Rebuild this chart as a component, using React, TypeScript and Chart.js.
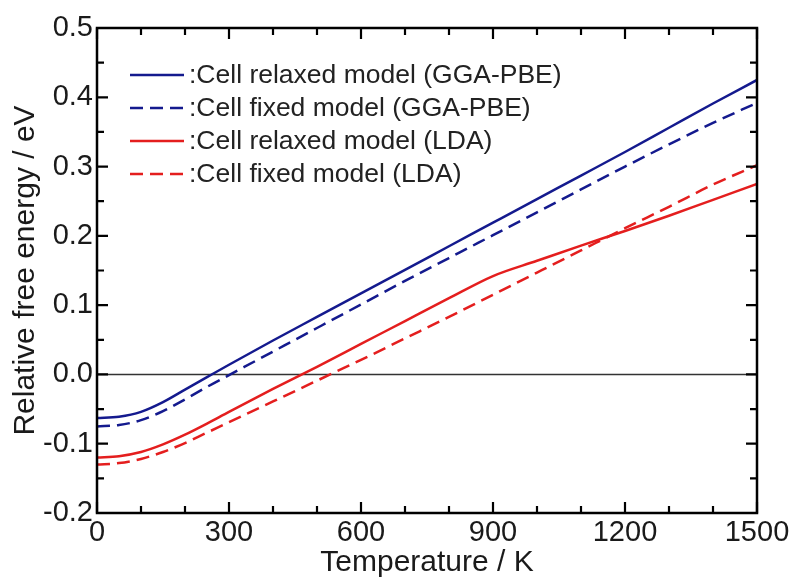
import React, { useEffect, useRef } from "react";
import { Chart, registerables } from "chart.js";

Chart.register(...registerables);

// ---- Data ----
const temperatures = [0, 50, 100, 150, 200, 250, 300, 400, 500, 600, 700, 800, 900, 1000, 1100, 1200, 1300, 1400, 1500];

const relaxedGGA = [-0.063, -0.061, -0.054, -0.04, -0.022, -0.004, 0.014, 0.049, 0.083, 0.117, 0.151, 0.185, 0.219, 0.253, 0.287, 0.321, 0.356, 0.391, 0.425];
const fixedGGA = [-0.075, -0.073, -0.066, -0.053, -0.036, -0.018, -0.001, 0.033, 0.067, 0.101, 0.135, 0.168, 0.201, 0.234, 0.267, 0.3, 0.332, 0.363, 0.392];
const relaxedLDA = [-0.12, -0.118, -0.112, -0.101, -0.087, -0.071, -0.054, -0.021, 0.011, 0.044, 0.077, 0.11, 0.142, 0.164, 0.186, 0.207, 0.229, 0.252, 0.275];
const fixedLDA = [-0.13, -0.128, -0.122, -0.112, -0.099, -0.084, -0.069, -0.039, -0.009, 0.021, 0.052, 0.083, 0.115, 0.147, 0.179, 0.211, 0.242, 0.274, 0.302];

const seriesLabels = [
  ":Cell relaxed model (GGA-PBE)",
  ":Cell fixed model (GGA-PBE)",
  ":Cell relaxed model (LDA)",
  ":Cell fixed model (LDA)",
];

const xTitle = "Temperature / K";
const yTitle = "Relative free energy / eV";

const X_MIN = 0;
const X_MAX = 1500;
const X_MAJOR = 300;
const X_MINOR = 100;
const Y_MIN = -0.2;
const Y_MAX = 0.5;
const Y_MAJOR = 0.1;
const Y_MINOR = 0.05;

const FONT = "'Liberation Sans', Arial, Helvetica, sans-serif";
const BLUE = "#141a8e";
const RED = "#e41e1e";
const DASH = [13, 7];

const toPoints = (vals: number[]) => temperatures.map((t, i) => ({ x: t, y: vals[i] }));

const framePlugin = {
  id: "frameTicksLegend",
  beforeDatasetsDraw(chart: any) {
    const { ctx, chartArea: a, scales } = chart;
    const y0 = scales.y.getPixelForValue(0);
    ctx.save();
    ctx.strokeStyle = "#333";
    ctx.lineWidth = 1.5;
    ctx.beginPath();
    ctx.moveTo(a.left, y0);
    ctx.lineTo(a.right, y0);
    ctx.stroke();
    ctx.restore();
  },
  afterDatasetsDraw(chart: any) {
    const { ctx, chartArea: a, scales } = chart;
    const xs = scales.x;
    const ys = scales.y;
    ctx.save();
    ctx.strokeStyle = "#000";
    ctx.lineWidth = 2.5;
    ctx.setLineDash([]);
    ctx.beginPath();
    ctx.rect(a.left, a.top, a.right - a.left, a.bottom - a.top);
    ctx.stroke();

    ctx.lineWidth = 2.2;
    ctx.beginPath();
    const nx = Math.round((X_MAX - X_MIN) / X_MINOR);
    for (let i = 0; i <= nx; i++) {
      const v = X_MIN + i * X_MINOR;
      const px = xs.getPixelForValue(v);
      const major = i % Math.round(X_MAJOR / X_MINOR) === 0;
      const len = major ? 11 : 7;
      ctx.moveTo(px, a.bottom);
      ctx.lineTo(px, a.bottom - len);
      ctx.moveTo(px, a.top);
      ctx.lineTo(px, a.top + len);
    }
    const ny = Math.round((Y_MAX - Y_MIN) / Y_MINOR);
    for (let i = 0; i <= ny; i++) {
      const v = Y_MIN + i * Y_MINOR;
      const py = ys.getPixelForValue(v);
      const major = i % Math.round(Y_MAJOR / Y_MINOR) === 0;
      const len = major ? 11 : 7;
      ctx.moveTo(a.left, py);
      ctx.lineTo(a.left + len, py);
      ctx.moveTo(a.right, py);
      ctx.lineTo(a.right - len, py);
    }
    ctx.stroke();

    // legend
    const rowY0 = a.top + 47;
    const rowGap = 33;
    const lineX0 = a.left + 33;
    const lineX1 = a.left + 87;
    ctx.font = `26.5px ${FONT}`;
    ctx.textBaseline = "middle";
    ctx.textAlign = "left";
    chart.data.datasets.forEach((ds: any, i: number) => {
      const y = rowY0 + i * rowGap;
      ctx.strokeStyle = ds.borderColor;
      ctx.lineWidth = 2.5;
      ctx.setLineDash(ds.borderDash || []);
      ctx.beginPath();
      ctx.moveTo(lineX0, y);
      ctx.lineTo(lineX1, y);
      ctx.stroke();
      ctx.setLineDash([]);
      ctx.fillStyle = "#222";
      ctx.fillText(ds.label, lineX1 + 5, y + 1);
    });
    ctx.restore();
  },
};

export default function App() {
  const canvasRef = useRef<HTMLCanvasElement | null>(null);

  useEffect(() => {
    if (!canvasRef.current) return;
    const chart = new Chart(canvasRef.current, {
      type: "line",
      data: {
        datasets: [
          { label: seriesLabels[0], data: toPoints(relaxedGGA), borderColor: BLUE, borderWidth: 2.5, borderDash: [] },
          { label: seriesLabels[1], data: toPoints(fixedGGA), borderColor: BLUE, borderWidth: 2.5, borderDash: DASH },
          { label: seriesLabels[2], data: toPoints(relaxedLDA), borderColor: RED, borderWidth: 2.5, borderDash: [] },
          { label: seriesLabels[3], data: toPoints(fixedLDA), borderColor: RED, borderWidth: 2.5, borderDash: DASH },
        ] as any,
      },
      options: {
        animation: false,
        responsive: true,
        maintainAspectRatio: false,
        elements: {
          point: { radius: 0, hoverRadius: 0 },
          line: { cubicInterpolationMode: "monotone", fill: false },
        },
        layout: { padding: { left: 0, top: 28, right: 38, bottom: 0 } },
        plugins: {
          legend: { display: false },
          tooltip: { enabled: false },
        },
        scales: {
          x: {
            type: "linear",
            min: X_MIN,
            max: X_MAX,
            grid: { display: false, drawTicks: false },
            border: { display: false },
            ticks: {
              stepSize: X_MAJOR,
              padding: 3,
              color: "#1a1a1a",
              font: { family: FONT, size: 29 },
              maxRotation: 0,
              autoSkip: false,
              callback: (v: any) => String(Math.round(Number(v))),
            },
            title: {
              display: true,
              text: xTitle,
              color: "#1a1a1a",
              font: { family: FONT, size: 30 },
              padding: { top: 0, bottom: 0 },
            },
            afterFit: (scale: any) => {
              scale.height = 68;
            },
          },
          y: {
            type: "linear",
            min: Y_MIN,
            max: Y_MAX,
            grid: { display: false, drawTicks: false },
            border: { display: false },
            ticks: {
              stepSize: Y_MAJOR,
              padding: 4,
              color: "#1a1a1a",
              font: { family: FONT, size: 29 },
              autoSkip: false,
              callback: (v: any) => {
                const n = Number(v);
                return Math.abs(n) < 1e-9 ? "0.0" : n.toFixed(1);
              },
            },
            title: {
              display: true,
              text: yTitle,
              color: "#1a1a1a",
              font: { family: FONT, size: 30 },
              padding: { top: 8, bottom: 0 },
            },
            afterFit: (scale: any) => {
              scale.width = 97;
            },
          },
        },
      },
      plugins: [framePlugin],
    });
    return () => chart.destroy();
  }, []);

  return (
    <div style={{ position: "fixed", left: 0, top: 0, width: 795, height: 581, background: "#fff" }}>
      <canvas ref={canvasRef} />
    </div>
  );
}
